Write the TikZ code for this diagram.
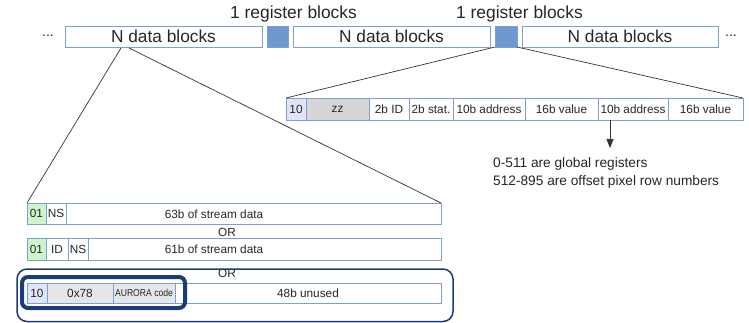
\documentclass[tikz,border=0pt]{standalone}
\usepackage{fontspec}
\setmainfont{Liberation Sans}
\usetikzlibrary{arrows.meta}
\definecolor{cellblue}{HTML}{7F9FD3}
\definecolor{regfill}{HTML}{6E99CE}
\definecolor{lav}{HTML}{DFE4F7}
\definecolor{zzgray}{HTML}{D6D6D6}
\definecolor{lgray}{HTML}{E6E6E6}
\definecolor{lgreen}{HTML}{CCF5CC}
\definecolor{dblue}{HTML}{1C3C78}
\tikzset{
  cell/.style={draw=cellblue, line width=0.9pt, inner sep=0pt, outer sep=0pt, anchor=north west, text=black!85},
  bigcell/.style={cell, minimum height=21pt, font=\fontsize{17.3}{20}\selectfont},
  regcell/.style={cell, minimum height=22pt, font=\fontsize{11.8}{14}\selectfont},
  strcell/.style={cell, minimum height=21pt, font=\fontsize{11.8}{14}\selectfont},
  lbl/.style={inner sep=0pt, text=black!85},
  conn/.style={draw=black!80, line width=0.7pt},
}
\begin{document}
\begin{tikzpicture}[x=1pt,y=-1pt]
\useasboundingbox (0,0) rectangle (749,323);
% top row
\node[lbl, font=\fontsize{14}{16}\selectfont] (dotsl) at (48,36) {...};
\node[bigcell, minimum width=197pt, minimum height=21pt] (b1) at (65,26) {N data blocks};
\node[cell, fill=regfill, minimum width=21pt, minimum height=21pt] (g1) at (267,26) {};
\node[bigcell, minimum width=197pt] (b2) at (293,26) {N data blocks};
\node[cell, fill=regfill, minimum width=22pt, minimum height=21pt] (g2) at (495,26) {};
\node[bigcell, minimum width=196pt] (b3) at (522,26) {N data blocks};
\node[lbl, font=\fontsize{14}{16}\selectfont] (dotsr) at (731,36) {...};
\node[lbl, font=\fontsize{17.4}{20}\selectfont] (t1) at (293.5,14) {1 register blocks};
\node[lbl, font=\fontsize{17.4}{20}\selectfont] (t2) at (519.5,14) {1 register blocks};
% register row
\node[regcell, fill=lav, minimum width=20pt] (r1) at (286,98) {10};
\node[regcell, fill=zzgray, minimum width=63pt] (r2) at (306,98) {zz};
\node[regcell, minimum width=40pt] (r3) at (369,98) {2b ID};
\node[regcell, minimum width=44pt] (r4) at (409,98) {2b stat.};
\node[regcell, minimum width=72pt] (r5) at (453,98) {10b address};
\node[regcell, minimum width=73pt] (r6) at (525,98) {16b value};
\node[regcell, minimum width=70pt] (r7) at (598,98) {10b address};
\node[regcell, minimum width=75pt] (r8) at (668,98) {16b value};
\draw[conn] (g2.south west) -- (r1.north west);
\draw[conn] (g2.south east) -- (r8.north east);
% annotation
\coordinate (arrend) at (610,148);
\draw[conn, -{Triangle[length=9pt,width=7pt]}] (r7.south -| arrend) -- (arrend);
\node[lbl, anchor=north west, align=left, font=\fontsize{13.7}{18.5}\selectfont] (note) at (493,157) {0-511 are global registers\\512-895 are offset pixel row numbers};
% stream rows
\node[strcell, fill=lgreen, minimum width=19pt] (s11) at (27,203) {01};
\node[strcell, minimum width=20pt] (s12) at (46,203) {NS};
\node[strcell, minimum width=375pt] (s13) at (66,203) {};
\node[lbl, font=\fontsize{11.8}{14}\selectfont] (s13t) at (214,214) {63b of stream data};
\node[lbl, font=\fontsize{11.8}{14}\selectfont] (or1) at (227,232) {OR};
\node[strcell, fill=lgreen, minimum width=19pt, minimum height=22pt] (s21) at (27,238) {01};
\node[strcell, minimum width=22pt, minimum height=22pt] (s22) at (46,238) {ID};
\node[strcell, minimum width=20pt, minimum height=22pt] (s23) at (68,238) {NS};
\node[strcell, minimum width=353pt, minimum height=22pt] (s24) at (88,238) {};
\node[lbl, font=\fontsize{11.8}{14}\selectfont] (s24t) at (214,249.5) {61b of stream data};
\node[lbl, font=\fontsize{11.8}{14}\selectfont] (or2) at (227,273) {OR};
\node[strcell, fill=lav, minimum width=20pt, minimum height=20pt] (s31) at (27,283) {10};
\node[strcell, fill=lgray, minimum width=66pt, minimum height=20pt] (s32) at (47,283) {0x78};
\node[strcell, fill=lgray, minimum width=62pt, minimum height=20pt, font=\fontsize{10}{12}\selectfont] (s33) at (113,283) {\scalebox{0.86}[1]{AURORA code}};
\node[strcell, minimum width=266pt, minimum height=20pt] (s34) at (175,283) {48b unused};
\coordinate (b1l) at (121,48);
\coordinate (b1r) at (129,48);
\draw[conn] (b1l) -- (s11.north west);
\draw[conn] (b1r) -- (s13.north east);
% highlight boxes
\draw[dblue, line width=1.5pt, rounded corners=10pt] (17,269) rectangle (453,321.5);
\draw[dblue, line width=4pt, rounded corners=6pt] (22,277) rectangle (185,308);
\end{tikzpicture}
\end{document}
